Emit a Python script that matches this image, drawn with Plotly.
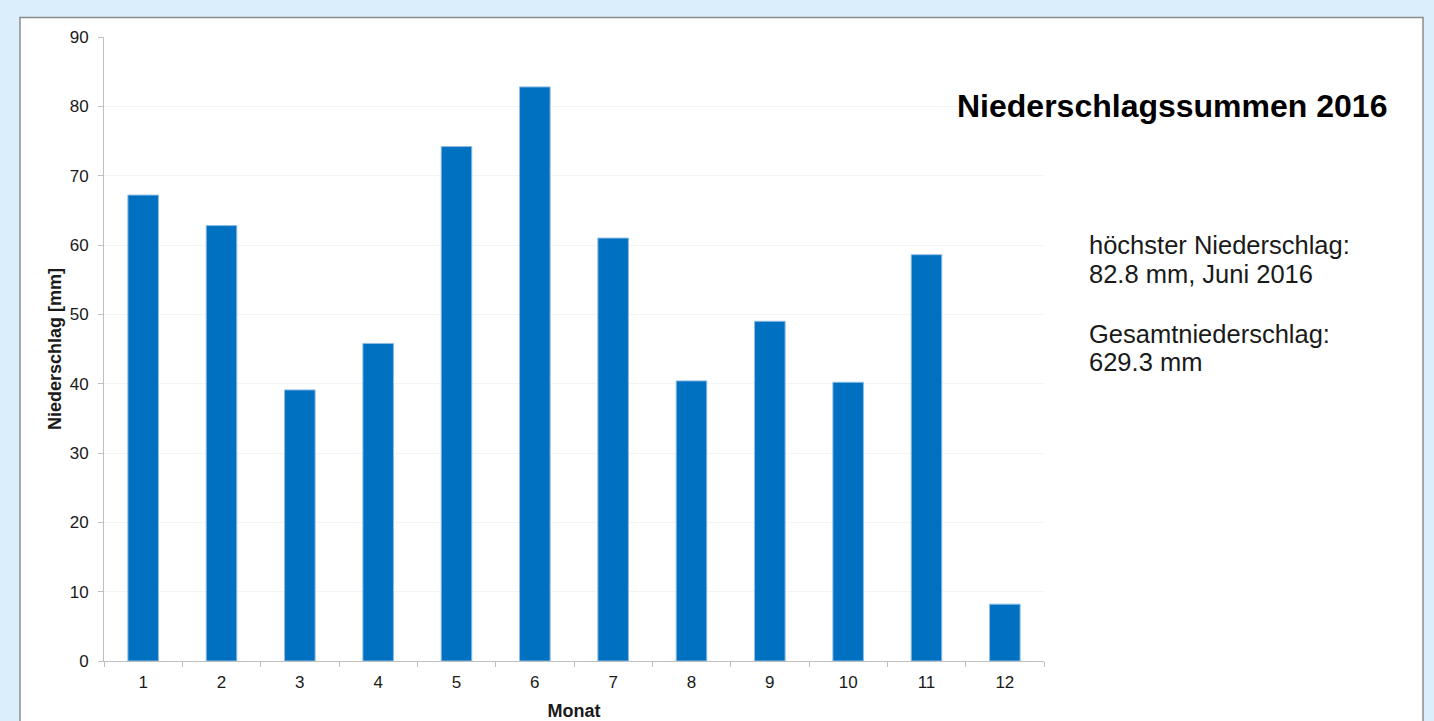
import plotly.graph_objects as go

# Monthly precipitation totals 2016 (mm)
months = ["1", "2", "3", "4", "5", "6", "7", "8", "9", "10", "11", "12"]
month_names = ["Januar", "Februar", "März", "April", "Mai", "Juni", "Juli",
               "August", "September", "Oktober", "November", "Dezember"]
precip = [67.2, 62.8, 39.1, 45.8, 74.2, 82.8, 61.0, 40.4, 49.0, 40.2, 58.6, 8.2]
y_ticks = [0, 10, 20, 30, 40, 50, 60, 70, 80, 90]

W, H = 1434, 721
L, R, T, B = 104, 1434 - 1044, 37, 721 - 661
PW, PH = W - L - R, H - T - B

def px(x):
    return (x - L) / PW

def py(y):
    return 1 - (y - T) / PH

imax = max(range(len(precip)), key=lambda i: precip[i])
total = sum(precip)

font = "Liberation Sans, Arial, sans-serif"

fig = go.Figure(go.Bar(
    x=months, y=precip,
    marker=dict(color="#0070C0", line=dict(color="#8dbce6", width=1)),
    width=0.39,
))

fig.update_layout(
    width=W, height=H,
    margin=dict(l=L, r=R, t=T, b=B),
    paper_bgcolor="#DAEEFC",
    plot_bgcolor="white",
    showlegend=False,
    font=dict(family=font, color="#1a1a1a"),
    xaxis=dict(
        type="category", range=[-0.5, 11.5], automargin=False,
        tickson="boundaries", ticks="outside", ticklen=5, tickcolor="#bfbfbf",
        showline=True, linecolor="#bfbfbf", linewidth=1,
        showgrid=False, zeroline=False,
        ticklabelstandoff=6,
        tickfont=dict(size=17, family=font, color="#1a1a1a"),
        title=dict(text="<b>Monat</b>", font=dict(size=18, family=font, color="#1a1a1a"), standoff=12),
    ),
    yaxis=dict(
        range=[0, 90], tickvals=y_ticks, automargin=False,
        ticks="outside", ticklen=5, tickcolor="#bfbfbf",
        showline=True, linecolor="#bfbfbf", linewidth=1,
        showgrid=True, gridcolor="#f4f4f4", gridwidth=1,
        zeroline=False,
        ticklabelstandoff=6,
        tickfont=dict(size=17, family=font, color="#1a1a1a"),
        title=dict(text="<b>Niederschlag [mm]</b>", font=dict(size=18, family=font, color="#1a1a1a"), standoff=3),
    ),
)

# white panel with grey frame behind the chart
fig.add_shape(type="rect", xref="paper", yref="paper", layer="below",
              x0=px(20), x1=px(1423), y0=py(740), y1=py(17.5),
              fillcolor="white", line=dict(color="#8c8c8c", width=1.5))

fig.add_annotation(xref="paper", yref="paper", x=px(955), y=py(106),
                   xanchor="left", yanchor="middle", showarrow=False,
                   text="<b>Niederschlagssummen 2016</b>",
                   font=dict(size=32, family=font, color="black"))

info_lines = [
    ("höchster Niederschlag:", 245),
    (f"{precip[imax]:.1f} mm, {month_names[imax]} 2016", 274),
    ("Gesamtniederschlag:", 334),
    (f"{total:.1f} mm", 362),
]
for txt, yc in info_lines:
    fig.add_annotation(xref="paper", yref="paper", x=px(1087), y=py(yc),
                       xanchor="left", yanchor="middle", showarrow=False,
                       text=txt, font=dict(size=25.5, family=font, color="#1a1a1a"))

fig.write_html("out.html")
